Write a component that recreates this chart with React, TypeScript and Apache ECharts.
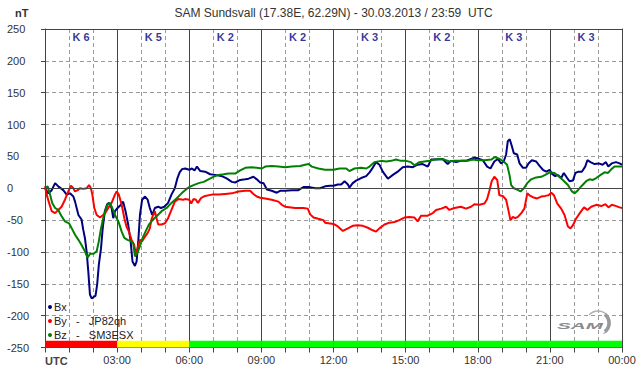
import React, { useEffect, useRef } from 'react';
import * as echarts from 'echarts';

// ---- data (hours of the day UTC, nT) ----
const kIndex = [6, 5, 2, 2, 3, 2, 3, 3];
const yTicks = [-250, 250, 50];
const stationLabels: Record<string, string> = { Bx: '', By: 'JP82qh', Bz: 'SM3ESX' };
const titleText = 'SAM Sundsvall (17.38E, 62.29N) - 30.03.2013 / 23:59  UTC';

const bx = [[0,0],[0.14,-8],[0.28,-3],[0.42,8],[0.55,3],[0.76,-3],[0.9,-10],[1.04,-8],[1.18,-13],[1.25,-21],[1.39,-42],[1.52,-49],[1.59,-65],[1.66,-78],[1.73,-99],[1.8,-130],[1.87,-167],[1.94,-173],[2.01,-171],[2.1,-169],[2.17,-151],[2.24,-120],[2.33,-94],[2.4,-63],[2.49,-36],[2.59,-25],[2.67,-23],[2.77,-31],[2.84,-47],[2.91,-36],[3.02,-31],[3.16,-26],[3.25,-21],[3.35,-36],[3.46,-57],[3.56,-83],[3.64,-115],[3.74,-122],[3.81,-115],[3.88,-83],[3.95,-42],[4.04,-18],[4.16,-13],[4.27,-18],[4.36,-31],[4.46,-42],[4.57,-31],[4.71,-29],[4.82,-31],[4.96,-29],[5.12,-23],[5.26,-10],[5.4,0],[5.51,16],[5.6,25],[5.7,30],[5.83,31],[6.0,29],[6.11,31],[6.22,28],[6.32,34],[6.46,27],[6.66,26],[6.87,22],[7.08,21],[7.36,19],[7.57,15],[7.77,10],[7.91,9],[8.12,13],[8.33,14],[8.47,15],[8.67,18],[8.81,14],[8.95,9],[9.09,8],[9.23,-2],[9.43,-4],[9.64,-7],[9.78,-4],[9.99,-4],[10.27,-3],[10.54,-3],[10.75,2],[10.96,2],[11.24,0],[11.44,0],[11.65,3],[11.86,4],[12.0,4],[12.18,6],[12.32,6],[12.46,11],[12.6,6],[12.66,1],[12.8,8],[12.94,12],[13.15,16],[13.36,19],[13.5,25],[13.63,32],[13.77,41],[13.91,37],[14.05,26],[14.26,15],[14.47,21],[14.67,26],[14.88,33],[15.09,34],[15.3,33],[15.5,37],[15.71,38],[15.92,34],[16.06,45],[16.27,45],[16.54,46],[16.75,38],[16.89,43],[17.1,41],[17.3,43],[17.51,43],[17.72,46],[17.86,48],[18.0,47],[18.21,44],[18.39,34],[18.53,31],[18.69,42],[18.83,46],[18.97,39],[19.08,42],[19.18,53],[19.25,74],[19.33,77],[19.42,66],[19.5,55],[19.64,53],[19.74,39],[19.88,32],[20.01,32],[20.11,39],[20.25,44],[20.43,42],[20.57,35],[20.71,29],[20.85,26],[20.99,29],[21.08,23],[21.22,19],[21.33,21],[21.47,16],[21.58,24],[21.72,16],[21.82,11],[21.96,12],[22.06,24],[22.19,26],[22.33,26],[22.47,34],[22.56,44],[22.69,41],[22.86,38],[23.03,39],[23.19,37],[23.33,41],[23.43,34],[23.57,39],[23.75,41],[23.9,39],[24,37]];

const by = [[0,3],[0.07,-10],[0.17,-23],[0.28,-36],[0.42,-39],[0.55,-34],[0.69,-29],[0.83,-18],[0.97,-5],[1.08,4],[1.18,0],[1.25,-5],[1.36,-3],[1.45,0],[1.59,-1],[1.73,0],[1.83,5],[1.91,0],[1.97,-10],[2.05,-31],[2.15,-42],[2.29,-46],[2.42,-42],[2.52,-38],[2.63,-31],[2.77,-23],[2.91,-10],[2.98,-5],[3.07,-10],[3.19,-26],[3.3,-47],[3.39,-60],[3.49,-68],[3.6,-81],[3.71,-89],[3.78,-104],[3.85,-94],[3.95,-81],[4.04,-83],[4.16,-76],[4.27,-70],[4.36,-63],[4.43,-49],[4.5,-42],[4.57,-36],[4.64,-47],[4.71,-57],[4.85,-57],[4.99,-55],[5.12,-47],[5.26,-34],[5.4,-21],[5.54,-17],[5.75,-18],[5.83,-17],[6.0,-18],[6.08,-24],[6.18,-17],[6.28,-18],[6.36,-23],[6.5,-15],[6.66,-12],[6.94,-10],[7.22,-10],[7.5,-9],[7.77,-8],[8.05,-5],[8.33,-4],[8.53,-4],[8.67,-9],[8.81,-13],[8.95,-15],[9.16,-16],[9.43,-18],[9.71,-21],[9.85,-26],[9.99,-29],[10.4,-31],[10.75,-31],[10.93,-32],[11.03,-41],[11.17,-46],[11.37,-48],[11.58,-50],[11.65,-54],[12.0,-56],[12.18,-60],[12.39,-67],[12.6,-63],[12.8,-59],[13.0,-58],[13.22,-59],[13.43,-62],[13.63,-66],[13.77,-68],[13.91,-63],[14.12,-57],[14.33,-54],[14.54,-53],[14.74,-50],[14.95,-46],[15.16,-45],[15.37,-46],[15.5,-52],[15.64,-43],[15.92,-43],[16.13,-39],[16.27,-34],[16.48,-32],[16.68,-29],[16.82,-34],[17.03,-31],[17.3,-29],[17.51,-32],[17.72,-29],[17.86,-25],[18.07,-26],[18.28,-24],[18.39,-17],[18.49,-3],[18.58,11],[18.69,18],[18.81,13],[18.9,-11],[19.04,-12],[19.18,-18],[19.25,-30],[19.36,-50],[19.46,-45],[19.56,-47],[19.67,-45],[19.81,-39],[19.94,-32],[20.06,-8],[20.15,-11],[20.29,-14],[20.47,-16],[20.64,-13],[20.81,-12],[20.94,-11],[21.06,-7],[21.17,-11],[21.31,-24],[21.47,-32],[21.61,-42],[21.75,-60],[21.86,-63],[21.96,-58],[22.1,-47],[22.28,-37],[22.42,-30],[22.56,-34],[22.72,-29],[22.93,-26],[23.14,-28],[23.31,-25],[23.44,-30],[23.58,-26],[23.76,-28],[23.9,-30],[24,-31]];

const bz = [[0,1],[0.11,3],[0.21,-10],[0.3,-23],[0.42,-31],[0.55,-34],[0.69,-44],[0.83,-52],[1.0,-55],[1.14,-65],[1.25,-73],[1.39,-81],[1.52,-89],[1.66,-99],[1.77,-109],[1.87,-103],[2.01,-103],[2.15,-99],[2.24,-83],[2.33,-63],[2.42,-47],[2.52,-34],[2.6,-26],[2.7,-23],[2.8,-31],[2.91,-42],[3.05,-52],[3.19,-68],[3.3,-78],[3.43,-81],[3.57,-83],[3.67,-86],[3.74,-107],[3.84,-102],[3.95,-91],[4.06,-78],[4.18,-68],[4.32,-57],[4.5,-49],[4.64,-44],[4.85,-36],[5.06,-31],[5.26,-23],[5.47,-16],[5.68,-8],[5.89,-1],[6.0,2],[6.18,5],[6.39,8],[6.6,10],[6.8,14],[7.0,18],[7.22,21],[7.43,22],[7.63,23],[7.91,23],[8.12,28],[8.33,32],[8.6,33],[8.81,32],[9.02,31],[9.16,34],[9.43,35],[9.71,34],[9.99,33],[10.27,34],[10.61,35],[10.82,37],[10.96,38],[11.1,34],[11.37,31],[11.65,29],[12.0,29],[12.25,31],[12.53,31],[12.66,27],[12.87,31],[13.15,32],[13.36,31],[13.5,34],[13.7,41],[13.98,43],[14.19,42],[14.4,43],[14.6,45],[14.81,43],[15.02,43],[15.22,41],[15.37,36],[15.57,41],[15.78,42],[15.99,43],[16.2,45],[16.4,46],[16.61,45],[16.82,42],[17.03,43],[17.3,43],[17.58,43],[17.79,45],[18.0,44],[18.28,44],[18.56,45],[18.72,49],[18.9,46],[19.08,42],[19.22,37],[19.32,21],[19.39,5],[19.5,0],[19.64,-2],[19.78,-5],[19.92,0],[20.06,8],[20.22,14],[20.43,17],[20.64,18],[20.81,21],[20.99,25],[21.19,24],[21.36,19],[21.54,13],[21.75,5],[21.92,-5],[22.03,-8],[22.17,-3],[22.33,4],[22.51,11],[22.65,14],[22.79,13],[22.93,16],[23.11,21],[23.28,25],[23.42,24],[23.56,30],[23.69,34],[23.86,34],[24,34]];

const FONT = '"Liberation Sans", Arial, Helvetica, sans-serif';
const C_BX = '#000080';
const C_BY = '#ff0000';
const C_BZ = '#008000';

function kColor(k: number) {
  if (k >= 6) return '#ff0000';
  if (k === 5) return '#ffff00';
  return '#00ff00';
}

function hourLabel(v: number) {
  if (v === 0) return '';
  const h = v % 24;
  return (h < 10 ? '0' : '') + h + ':00';
}

export default function App() {
  const ref = useRef<HTMLDivElement>(null);
  useEffect(() => {
    if (!ref.current) return;
    const chart = echarts.init(ref.current, undefined, { renderer: 'svg' });
    const lineSeries = (name: string, data: number[][], color: string) => ({
      type: 'line', name, data, symbol: 'none', showSymbol: false,
      lineStyle: { color, width: 2 }, itemStyle: { color }, z: 3,
    });
    const option: any = {
      animation: false,
      backgroundColor: '#ffffff',
      grid: { left: 45, right: 20, top: 29, bottom: 28.5 },
      xAxis: [
        {
          type: 'value', min: 0, max: 24, interval: 3,
          axisLine: { show: true, onZero: false, lineStyle: { color: '#444', width: 1 } },
          axisTick: { show: true, length: 5, lineStyle: { color: '#444' } },
          minorTick: { show: true, splitNumber: 3, length: 5, lineStyle: { color: '#444' } },
          splitLine: { show: true, lineStyle: { color: '#444', width: 1 } },
          minorSplitLine: { show: true, lineStyle: { color: '#9a9a9a', type: [4, 3], width: 1 } },
          axisLabel: { formatter: hourLabel, color: '#333', fontSize: 11, fontFamily: FONT, margin: 7, showMinLabel: true, showMaxLabel: true },
        },
        {
          type: 'value', position: 'top', min: 0, max: 24,
          axisLine: { show: true, onZero: false, lineStyle: { color: '#444', width: 1 } },
          axisTick: { show: false }, axisLabel: { show: false }, splitLine: { show: false },
        },
      ],
      yAxis: [
        {
          type: 'value', min: yTicks[0], max: yTicks[1], interval: yTicks[2],
          axisLine: { show: true, onZero: false, lineStyle: { color: '#444', width: 1 } },
          axisTick: { show: true, length: 4, lineStyle: { color: '#444' } },
          splitLine: { show: true, lineStyle: { color: '#9a9a9a', type: [4, 3], width: 1 } },
          axisLabel: { align: 'left', margin: 38, color: '#333', fontSize: 11, fontFamily: FONT },
        },
        {
          type: 'value', position: 'right', min: yTicks[0], max: yTicks[1],
          axisLine: { show: true, onZero: false, lineStyle: { color: '#444', width: 1 } },
          axisTick: { show: false }, axisLabel: { show: false }, splitLine: { show: false },
        },
      ],
      legend: {
        orient: 'vertical', left: 48, top: 301, padding: 0, itemGap: 2,
        itemWidth: 4, itemHeight: 4, icon: 'circle',
        data: ['Bx', 'By', 'Bz'],
        formatter: (name: string) => (stationLabels[name] ? name + '   -   ' + stationLabels[name] : name),
        textStyle: { fontSize: 11, color: '#222', fontFamily: FONT, lineHeight: 12, padding: [0, 0, 0, -3] },
      },
      graphic: [
        { type: 'text', x: 333.5, y: 13, style: { text: titleText, font: '12px ' + FONT, fill: '#333', align: 'center', verticalAlign: 'middle' } },
        { type: 'text', x: 15, y: 13, style: { text: 'nT', font: 'bold 11px ' + FONT, fill: '#333', align: 'left', verticalAlign: 'middle' } },
        { type: 'text', x: 45, y: 361, style: { text: 'UTC', font: 'bold 11px ' + FONT, fill: '#444', align: 'left', verticalAlign: 'middle' } },
        { type: 'arc', z: 10, shape: { cx: 598, cy: 323, r: 12, startAngle: -2.4, endAngle: 1.1, clockwise: true }, style: { stroke: '#b0b0b0', lineWidth: 1.5, fill: 'none' } },
        { type: 'arc', z: 10, shape: { cx: 598, cy: 323, r: 11, startAngle: -0.9, endAngle: 0.9, clockwise: true }, style: { stroke: '#999', lineWidth: 3.5, fill: 'none' } },
        {
          type: 'group', x: 557, y: 326, scaleX: 2.3, scaleY: 1, z: 11,
          children: [
            { type: 'text', x: 0, y: 0, style: { text: 'SAM', font: 'italic bold 9px ' + FONT, fill: '#8a8a8a', align: 'left', verticalAlign: 'middle' } },
          ],
        },
      ],
      series: [
        {
          type: 'scatter', name: 'K', symbolSize: 1, itemStyle: { color: 'rgba(0,0,0,0)' }, z: 2,
          data: kIndex.map((k, i) => [i * 3 + 1.5, 238, 'K ' + k]),
          label: { show: true, position: 'inside', formatter: (p: any) => p.value[2], color: '#000080', fontWeight: 'bold', fontSize: 11, fontFamily: FONT },
          markArea: {
            silent: true,
            data: kIndex.map((k, i) => [
              { xAxis: i * 3, yAxis: -250, itemStyle: { color: kColor(k), opacity: 1, borderWidth: 0 } },
              { xAxis: i * 3 + 3, yAxis: -239.5 },
            ]),
          },
          markLine: {
            silent: true, symbol: 'none', label: { show: false },
            lineStyle: { color: '#444', type: 'solid', width: 1 },
            data: [{ yAxis: 0 }],
          },
        },
        lineSeries('Bx', bx, C_BX),
        lineSeries('By', by, C_BY),
        lineSeries('Bz', bz, C_BZ),
      ],
    };
    chart.setOption(option);
    return () => chart.dispose();
  }, []);
  return <div ref={ref} style={{ position: 'fixed', left: 0, top: 0, width: 642, height: 376, background: '#fff' }} />;
}
